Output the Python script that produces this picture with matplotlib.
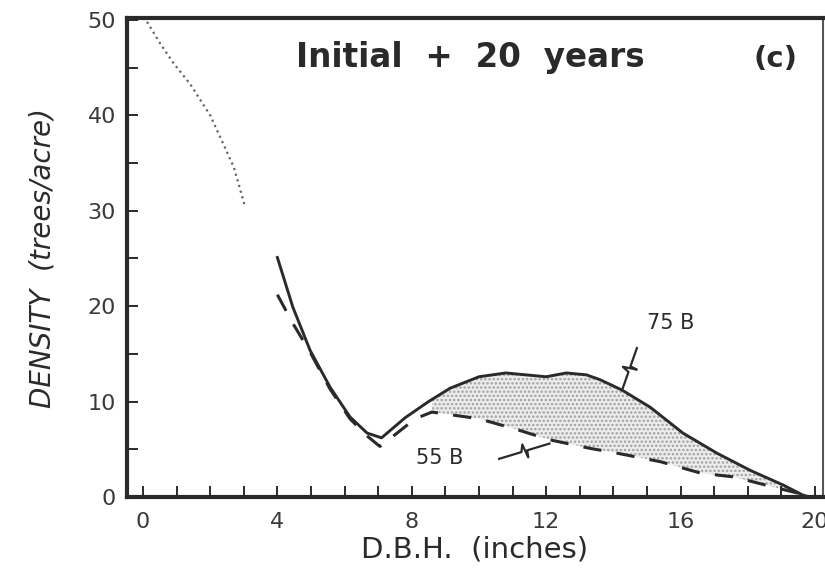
import numpy as np
import matplotlib
matplotlib.use('Agg')
import matplotlib.pyplot as plt

# initial stand (dotted)
init_dbh = [0.12, 0.5, 0.9, 1.4, 2.0, 2.3, 2.7, 3.04]
init_dens = [49.8, 47.6, 45.5, 43.3, 40.0, 37.7, 34.6, 30.4]

# 75 B after 20 years (solid)
b75_dbh = [4.0, 4.46, 4.97, 5.57, 6.16, 6.67, 7.1, 7.8, 8.5, 9.14, 10.0, 10.8,
           12.0, 12.6, 13.2, 13.6, 14.26, 15.1, 16.07, 17.08, 18.07, 19.05, 19.64, 19.85]
b75_dens = [25.1, 19.9, 15.4, 11.5, 8.4, 6.7, 6.2, 8.3, 10.0, 11.4, 12.6, 13.0,
            12.6, 13.0, 12.8, 12.3, 11.2, 9.4, 6.7, 4.6, 2.8, 1.26, 0.2, 0.0]

# 55 B after 20 years (dashed)
b55_dbh = [4.0, 4.46, 4.97, 5.57, 6.16, 6.67, 7.05, 7.6, 8.1, 8.6, 10.0, 11.1,
           12.1, 13.3, 14.1, 15.4, 16.6, 17.6, 18.75, 19.5, 19.8]
b55_dens = [21.2, 18.2, 15.2, 11.3, 8.2, 6.4, 5.3, 6.8, 8.2, 8.9, 8.2, 7.1,
            6.0, 5.1, 4.6, 3.7, 2.5, 2.1, 1.05, 0.4, 0.0]

x_ticks = [0, 4, 8, 12, 16, 20]
y_ticks = [0, 10, 20, 30, 40, 50]

ink = '#2a2a2a'
plt.rcParams['font.family'] = ['DejaVu Sans']
plt.rcParams['hatch.linewidth'] = 1.2

fig = plt.figure(figsize=(8.25, 5.77), dpi=100)
ax = fig.add_axes([127 / 825, 1 - 497 / 577, 696 / 825, 479 / 577])

ax.plot(init_dbh, init_dens, ':', color='#666666', lw=1.6)
ax.plot(b75_dbh, b75_dens, '-', color=ink, lw=2.1)
ax.plot(b55_dbh, b55_dens, color=ink, lw=2.2, dashes=(6, 5))

# shaded gap between the two cuts
xs = np.linspace(8.6, 19.7, 200)
ax.fill_between(xs, np.interp(xs, b55_dbh, b55_dens), np.interp(xs, b75_dbh, b75_dens),
                facecolor='#ededed', hatch='....', edgecolor='#a0a0a0', linewidth=0)


def leader(x0, y0, x1, y1):
    # leader line with a small zigzag in the middle
    sx, sy = 33.6, 9.55
    X0, Y0, X1, Y1 = x0 * sx, y0 * sy, x1 * sx, y1 * sy
    L = np.hypot(X1 - X0, Y1 - Y0)
    ux, uy = (X1 - X0) / L, (Y1 - Y0) / L
    px, py = -uy, ux
    mx, my = (X0 + X1) / 2, (Y0 + Y1) / 2
    pts = [(X0, Y0), (mx - 3 * ux, my - 3 * uy), (mx + 7 * px, my + 7 * py),
           (mx - 7 * px + 2 * ux, my - 7 * py + 2 * uy), (mx + 3 * ux, my + 3 * uy), (X1, Y1)]
    ax.plot([p[0] / sx for p in pts], [p[1] / sy for p in pts], color=ink, lw=1.6)


leader(14.26, 11.2, 14.7, 15.6)
leader(10.6, 4.0, 12.1, 5.6)

ax.text(15.7, 18.2, '75 B', fontsize=15, color=ink, ha='center', va='center')
ax.text(8.84, 4.1, '55 B', fontsize=15, color=ink, ha='center', va='center')
ax.text(9.73, 45.1, 'Initial  +  20  years', fontsize=23.5, fontweight='bold', color=ink,
        ha='center', va='baseline')
ax.text(18.84, 45.1, '(c)', fontsize=21, fontweight='bold', color=ink, ha='center', va='baseline')

ax.set_xlim(-0.476, 20.24)
ax.set_ylim(0, 50.2)
ax.set_xticks(x_ticks)
ax.set_xticks(np.arange(0, 21, 1), minor=True)
ax.set_yticks(y_ticks)
ax.set_yticks(np.arange(0, 51, 5), minor=True)
ax.tick_params(which='both', direction='in', length=8, width=1.4, color=ink,
               labelsize=16, labelcolor='#3a3a3a')
ax.tick_params(axis='x', pad=11)
ax.tick_params(axis='y', pad=8)

for side in ['left', 'bottom', 'top']:
    ax.spines[side].set_linewidth(3)
    ax.spines[side].set_color(ink)
ax.spines['right'].set_linewidth(1.5)
ax.spines['right'].set_color('#555555')

ax.set_xlabel('D.B.H.  (inches)', fontsize=21, color=ink, labelpad=2)
ax.set_ylabel('DENSITY  (trees/acre)', fontsize=20, style='italic', color=ink, labelpad=22)

fig.savefig('out.png', dpi=100)
